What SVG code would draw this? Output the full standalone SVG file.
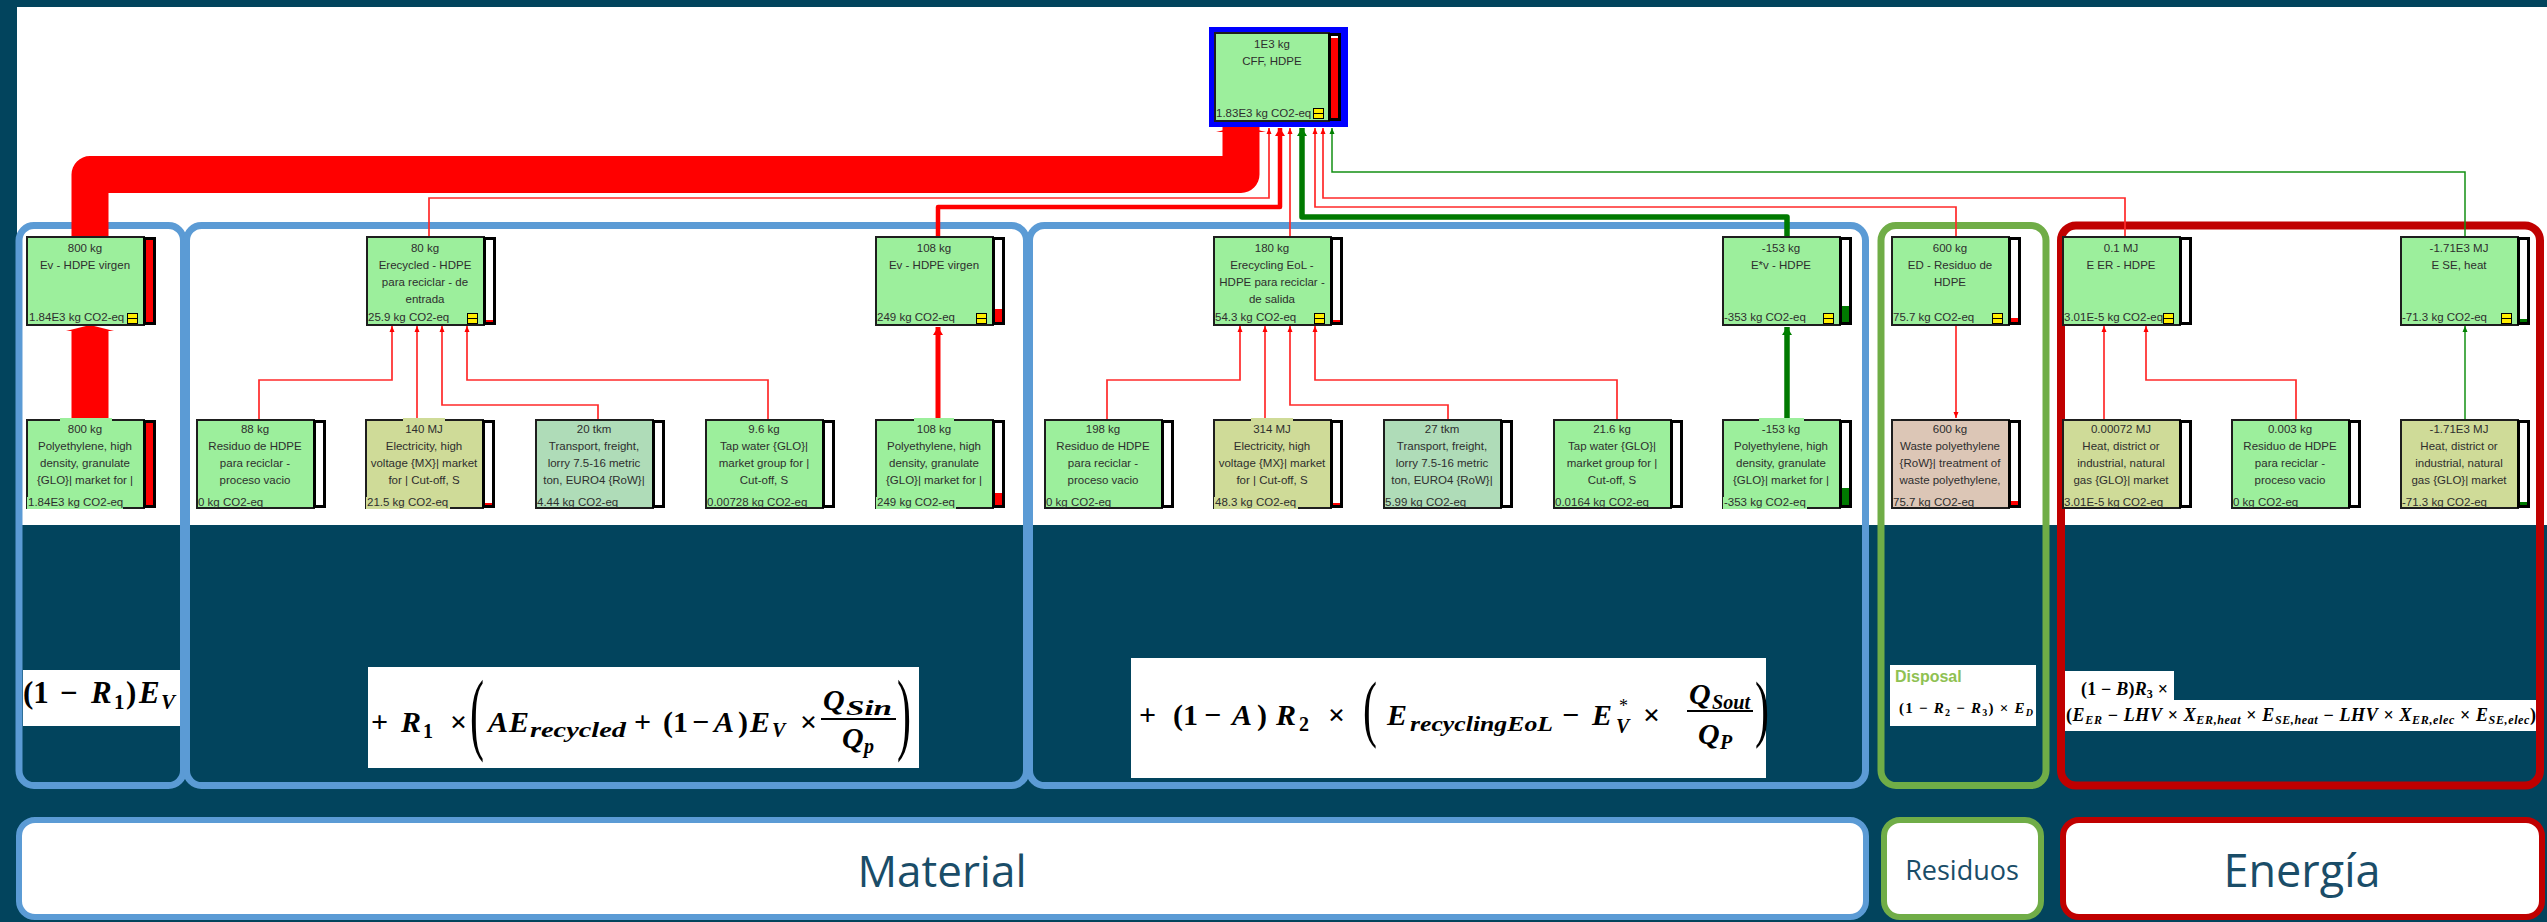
<svg xmlns="http://www.w3.org/2000/svg" width="2547" height="922" viewBox="0 0 2547 922">
<style>
.bx{stroke:#1e1e1e;stroke-width:2}
.g{fill:#9cef9c}.k{fill:#cfdb98}.tr{fill:#afdcb8}.w{fill:#dcc6b6}
.bar{fill:#fff;stroke:#000;stroke-width:3}
.fr{fill:#f00}.fg{fill:#007a00}
.t{font-family:"Liberation Sans",Arial,sans-serif;font-size:11.5px;fill:#2e2e2e;text-anchor:middle}
.b{font-family:"Liberation Sans",Arial,sans-serif;font-size:11.5px;fill:#2e2e2e}
.ico{fill:#ffee00;stroke:#000;stroke-width:1}
.thin{fill:none;stroke:#ff2a2a;stroke-width:1.7}
.thinG{fill:none;stroke:#139013;stroke-width:1.5}
.frameB{fill:none;stroke:#5b9bd5;stroke-width:7}
.frameG{fill:none;stroke:#70ad47;stroke-width:7}
.frameR{fill:none;stroke:#c00000;stroke-width:8}
.m{font-family:"Liberation Serif","DejaVu Serif",serif;font-weight:bold;fill:#000}
.mi{font-family:"Liberation Serif","DejaVu Serif",serif;font-weight:bold;font-style:italic;fill:#000}
.par{font-family:"Liberation Serif","DejaVu Serif",serif;font-weight:normal;fill:#000}
.lbl{font-family:"Open Sans","Liberation Sans",sans-serif;fill:#1a4d68;text-anchor:middle}
</style>
<defs>
<marker id="aR" markerWidth="6" markerHeight="6" refX="6" refY="3" orient="auto" markerUnits="userSpaceOnUse"><path d="M0,0.5 L6,3 L0,5.5 z" fill="#f00"/></marker>
<marker id="aG" markerWidth="6" markerHeight="6" refX="6" refY="3" orient="auto" markerUnits="userSpaceOnUse"><path d="M0,0.5 L6,3 L0,5.5 z" fill="#008000"/></marker>
<marker id="aR2" markerWidth="10" markerHeight="10" refX="8" refY="5" orient="auto" markerUnits="userSpaceOnUse"><path d="M0,0 L8,5 L0,10 z" fill="#f00"/></marker>
<marker id="aG2" markerWidth="10" markerHeight="10" refX="8" refY="5" orient="auto" markerUnits="userSpaceOnUse"><path d="M0,0 L8,5 L0,10 z" fill="#008000"/></marker>
</defs>

<rect x="0" y="0" width="2547" height="922" fill="#02445d"/>
<rect x="17" y="7" width="2530" height="518" fill="#fff"/>

<!-- formula boxes -->
<g id="formulas">
<rect x="23" y="670" width="159" height="56" fill="#fff"/>
<text class="m" x="23" y="703" font-size="31">(1</text>
<text class="m" x="60" y="703" font-size="31">−</text>
<text class="mi" x="91" y="703" font-size="31">R</text>
<text class="m" x="114" y="709" font-size="21">1</text>
<text class="m" x="126" y="703" font-size="31">)</text>
<text class="mi" x="139" y="703" font-size="31">E</text>
<text class="mi" x="161" y="709" font-size="21">V</text>

<rect x="368" y="667" width="551" height="101" fill="#fff"/>
<text class="m" x="371" y="732" font-size="30">+</text>
<text class="mi" x="401" y="732" font-size="30">R</text>
<text class="m" x="423" y="738" font-size="20">1</text>
<text class="m" x="450" y="732" font-size="30">×</text>
<text class="par" font-size="28" transform="translate(470,743) scale(1.5,3.28)">(</text>
<text class="mi" x="488" y="732" font-size="30">A</text>
<text class="mi" x="509" y="732" font-size="30">E</text>
<text class="mi" x="530" y="737" font-size="21" textLength="96" lengthAdjust="spacingAndGlyphs">recycled</text>
<text class="m" x="634" y="732" font-size="30">+</text>
<text class="m" x="663" y="732" font-size="30">(</text>
<text class="m" x="673" y="732" font-size="30">1</text>
<text class="m" x="692" y="732" font-size="30">−</text>
<text class="mi" x="714" y="732" font-size="30">A</text>
<text class="m" x="738" y="732" font-size="30">)</text>
<text class="mi" x="750" y="732" font-size="30">E</text>
<text class="mi" x="772" y="737" font-size="20">V</text>
<text class="m" x="800" y="732" font-size="30">×</text>
<text class="mi" x="823" y="710" font-size="30">Q</text>
<text class="mi" x="846" y="715" font-size="20" textLength="46" lengthAdjust="spacingAndGlyphs">Sin</text>
<line x1="821" y1="719" x2="896" y2="719" stroke="#000" stroke-width="2"/>
<text class="mi" x="842" y="748" font-size="30">Q</text>
<text class="mi" x="864" y="753" font-size="20">p</text>
<text class="par" font-size="28" transform="translate(897,743) scale(1.5,3.28)">)</text>

<rect x="1131" y="658" width="635" height="120" fill="#fff"/>
<text class="m" x="1139" y="725" font-size="30">+</text>
<text class="m" x="1173" y="725" font-size="30">(</text>
<text class="m" x="1183" y="725" font-size="30">1</text>
<text class="m" x="1204" y="725" font-size="30">−</text>
<text class="mi" x="1232" y="725" font-size="30">A</text>
<text class="m" x="1257" y="725" font-size="30">)</text>
<text class="mi" x="1276" y="725" font-size="30">R</text>
<text class="m" x="1299" y="731" font-size="20">2</text>
<text class="m" x="1328" y="725" font-size="30">×</text>
<text class="par" font-size="28" transform="translate(1363,733) scale(1.5,2.66)">(</text>
<text class="mi" x="1387" y="725" font-size="30">E</text>
<text class="mi" x="1410" y="731" font-size="21" textLength="143" lengthAdjust="spacingAndGlyphs">recyclingEoL</text>
<text class="m" x="1562" y="725" font-size="30">−</text>
<text class="mi" x="1592" y="725" font-size="30">E</text>
<text class="par" x="1619" y="712" font-size="18">*</text>
<text class="mi" x="1616" y="733" font-size="20">V</text>
<text class="m" x="1643" y="725" font-size="30">×</text>
<text class="mi" x="1689" y="704" font-size="30">Q</text>
<text class="mi" x="1712" y="709" font-size="20" textLength="38" lengthAdjust="spacingAndGlyphs">Sout</text>
<line x1="1687" y1="711" x2="1753" y2="711" stroke="#000" stroke-width="2"/>
<text class="mi" x="1698" y="744" font-size="30">Q</text>
<text class="mi" x="1720" y="749" font-size="20">P</text>
<text class="par" font-size="28" transform="translate(1755,733) scale(1.5,2.66)">)</text>

<rect x="1890" y="665" width="146" height="61" fill="#fff"/>
<text x="1895" y="682" font-family="Liberation Sans,Arial,sans-serif" font-weight="bold" font-size="16" fill="#8fc152">Disposal</text>
<text class="m" x="1899" y="713" font-size="15" textLength="134" lengthAdjust="spacing">(1 − <tspan class="mi">R</tspan><tspan font-size="10" dy="3">2</tspan><tspan dy="-3"> − </tspan><tspan class="mi">R</tspan><tspan font-size="10" dy="3">3</tspan><tspan dy="-3">) × </tspan><tspan class="mi">E</tspan><tspan class="mi" font-size="10" dy="3">D</tspan></text>

<rect x="2063" y="671" width="111" height="30" fill="#fff"/>
<rect x="2063" y="700" width="477" height="31" fill="#fff"/>
<text class="m" x="2081" y="695" font-size="18" textLength="87" lengthAdjust="spacing">(1 − <tspan class="mi">B</tspan>)<tspan class="mi">R</tspan><tspan font-size="12" dy="3">3</tspan><tspan dy="-3"> ×</tspan></text>
<text class="m" x="2066" y="721" font-size="18" textLength="470" lengthAdjust="spacing">(<tspan class="mi">E</tspan><tspan class="mi" font-size="12" dy="3">ER</tspan><tspan dy="-3"> − </tspan><tspan class="mi">LHV</tspan> × <tspan class="mi">X</tspan><tspan class="mi" font-size="12" dy="3">ER,heat</tspan><tspan dy="-3"> × </tspan><tspan class="mi">E</tspan><tspan class="mi" font-size="12" dy="3">SE,heat</tspan><tspan dy="-3"> − </tspan><tspan class="mi">LHV</tspan> × <tspan class="mi">X</tspan><tspan class="mi" font-size="12" dy="3">ER,elec</tspan><tspan dy="-3"> × </tspan><tspan class="mi">E</tspan><tspan class="mi" font-size="12" dy="3">SE,elec</tspan><tspan dy="-3">)</tspan></text>
</g>

<!-- group frames -->
<g id="frames">
<rect class="frameB" x="19" y="225.5" width="164.5" height="560" rx="15"/>
<rect class="frameB" x="186.5" y="225.5" width="840" height="560" rx="15"/>
<rect class="frameB" x="1029.5" y="225.5" width="836" height="560" rx="15"/>
<rect class="frameG" x="1881" y="225.5" width="165" height="560" rx="15"/>
<rect class="frameR" x="2061" y="225.5" width="479" height="560" rx="15"/>
</g>

<!-- bottom labels -->
<g id="lbl-material"><rect x="19" y="820" width="1847" height="97" rx="16" fill="#fff" stroke="#5b9bd5" stroke-width="6"/><text class="lbl" x="942" y="887" font-size="44">Material</text></g>
<g id="lbl-residuos"><rect x="1884" y="820" width="157" height="97" rx="16" fill="#fff" stroke="#70ad47" stroke-width="6"/><text class="lbl" x="1962" y="880" font-size="27">Residuos</text></g>
<g id="lbl-energia"><rect x="2063" y="820" width="479" height="97" rx="16" fill="#fff" stroke="#c00000" stroke-width="6"/><text class="lbl" x="2302" y="887" font-size="45">Energía</text></g>

<!-- connectors -->
<g id="connectors">
<path d="M1241,127 V174.5 H90 V237" fill="none" stroke="#f00" stroke-width="37" stroke-linejoin="round"/>
<polygon points="1216,132 1241,126 1266,132" fill="#f00"/>
<path d="M90,420 V331" fill="none" stroke="#f00" stroke-width="37"/>
<polygon points="66,331 90,325 114,331" fill="#f00"/>
<path class="thin" d="M429,237 V198 H1269 V128" marker-end="url(#aR)"/>
<path d="M938,237 V207 H1280 V128" fill="none" stroke="#f00" stroke-width="4.5" stroke-linejoin="round" marker-end="url(#aR2)"/>
<path class="thin" d="M1290,237 V128" marker-end="url(#aR)"/>
<path d="M1787,237 V217 H1302 V128" fill="none" stroke="#007a00" stroke-width="5.5" stroke-linejoin="round" marker-end="url(#aG2)"/>
<path class="thin" d="M1956,237 V207 H1315 V128" marker-end="url(#aR)"/>
<path class="thin" d="M2125,237 V198 H1323 V128" marker-end="url(#aR)"/>
<path class="thinG" d="M2465,237 V172 H1332 V128" marker-end="url(#aG)"/>

<path class="thin" d="M259,420 V380 H392 V326" marker-end="url(#aR)"/>
<path class="thin" d="M417,420 V326" marker-end="url(#aR)"/>
<path class="thin" d="M598,420 V405 H442 V326" marker-end="url(#aR)"/>
<path class="thin" d="M768,420 V380 H467 V326" marker-end="url(#aR)"/>
<path d="M938,420 V327" fill="none" stroke="#f00" stroke-width="5" marker-end="url(#aR2)"/>

<path class="thin" d="M1107,420 V380 H1240 V326" marker-end="url(#aR)"/>
<path class="thin" d="M1265,420 V326" marker-end="url(#aR)"/>
<path class="thin" d="M1448,420 V405 H1290 V326" marker-end="url(#aR)"/>
<path class="thin" d="M1617,420 V380 H1315 V326" marker-end="url(#aR)"/>
<path d="M1787,420 V327" fill="none" stroke="#007a00" stroke-width="5.5" marker-end="url(#aG2)"/>

<path class="thin" d="M1956,325 V418" marker-end="url(#aR)"/>
<path class="thin" d="M2104,420 V326" marker-end="url(#aR)"/>
<path class="thin" d="M2296,420 V380 H2146 V326" marker-end="url(#aR)"/>
<path class="thinG" d="M2465,420 V326" marker-end="url(#aG)"/>
</g>

<!-- top node -->
<g id="cff">
<rect x="1209" y="27" width="139" height="100" fill="#0000ff"/>
<rect class="bx g" x="1215" y="33" width="114" height="88"/>
<rect class="bar" x="1329.5" y="34.5" width="10" height="85"/>
<rect class="fr" x="1331" y="38" width="7" height="80"/>
<text class="t" x="1272" y="48">1E3 kg</text>
<text class="t" x="1272" y="65">CFF, HDPE</text>
<text class="b" x="1216" y="117">1.83E3 kg CO2-eq</text>
<rect class="ico" x="1313.5" y="108.5" width="10" height="10"/><line x1="1313.5" y1="113.5" x2="1323.5" y2="113.5" stroke="#000"/>
</g>

<!-- row 1 -->
<g id="n-ev800">
<rect class="bx g" x="27" y="237" width="117" height="88"/>
<rect class="bar" x="144.5" y="238.5" width="10" height="85"/>
<rect class="fr" x="146" y="240" width="7" height="82"/>
<text class="t" x="85" y="252">800 kg</text>
<text class="t" x="85" y="269">Ev - HDPE virgen</text>
<text class="b" x="29" y="321">1.84E3 kg CO2-eq</text>
<rect class="ico" x="127.5" y="313.5" width="10" height="10"/><line x1="127.5" y1="318.5" x2="137.5" y2="318.5" stroke="#000"/>
</g>
<g id="n-erecycled">
<rect class="bx g" x="367" y="237" width="117" height="88"/>
<rect class="bar" x="484.5" y="238.5" width="10" height="85"/>
<rect class="fr" x="486" y="320" width="7" height="2"/>
<text class="t" x="425" y="252">80 kg</text>
<text class="t" x="425" y="269">Erecycled - HDPE</text>
<text class="t" x="425" y="286">para reciclar - de</text>
<text class="t" x="425" y="303">entrada</text>
<text class="b" x="368" y="321">25.9 kg CO2-eq</text>
<rect class="ico" x="467.5" y="313.5" width="10" height="10"/><line x1="467.5" y1="318.5" x2="477.5" y2="318.5" stroke="#000"/>
</g>
<g id="n-ev108">
<rect class="bx g" x="876" y="237" width="117" height="88"/>
<rect class="bar" x="993.5" y="238.5" width="10" height="85"/>
<rect class="fr" x="995" y="309" width="7" height="13"/>
<text class="t" x="934" y="252">108 kg</text>
<text class="t" x="934" y="269">Ev - HDPE virgen</text>
<text class="b" x="877" y="321">249 kg CO2-eq</text>
<rect class="ico" x="976.5" y="313.5" width="10" height="10"/><line x1="976.5" y1="318.5" x2="986.5" y2="318.5" stroke="#000"/>
</g>
<g id="n-erecyclingeol">
<rect class="bx g" x="1214" y="237" width="117" height="88"/>
<rect class="bar" x="1331.5" y="238.5" width="10" height="85"/>
<rect class="fr" x="1333" y="320" width="7" height="2"/>
<text class="t" x="1272" y="252">180 kg</text>
<text class="t" x="1272" y="269">Erecycling EoL -</text>
<text class="t" x="1272" y="286">HDPE para reciclar -</text>
<text class="t" x="1272" y="303">de salida</text>
<text class="b" x="1215" y="321">54.3 kg CO2-eq</text>
<rect class="ico" x="1314.5" y="313.5" width="10" height="10"/><line x1="1314.5" y1="318.5" x2="1324.5" y2="318.5" stroke="#000"/>
</g>
<g id="n-evstar">
<rect class="bx g" x="1723" y="237" width="117" height="88"/>
<rect class="bar" x="1840.5" y="238.5" width="10" height="85"/>
<rect class="fg" x="1842" y="306" width="7" height="16"/>
<text class="t" x="1781" y="252">-153 kg</text>
<text class="t" x="1781" y="269">E*v - HDPE</text>
<text class="b" x="1724" y="321">-353 kg CO2-eq</text>
<rect class="ico" x="1823.5" y="313.5" width="10" height="10"/><line x1="1823.5" y1="318.5" x2="1833.5" y2="318.5" stroke="#000"/>
</g>
<g id="n-ed">
<rect class="bx g" x="1892" y="237" width="117" height="88"/>
<rect class="bar" x="2009.5" y="238.5" width="10" height="85"/>
<rect class="fr" x="2011" y="318" width="7" height="4"/>
<text class="t" x="1950" y="252">600 kg</text>
<text class="t" x="1950" y="269">ED - Residuo de</text>
<text class="t" x="1950" y="286">HDPE</text>
<text class="b" x="1893" y="321">75.7 kg CO2-eq</text>
<rect class="ico" x="1992.5" y="313.5" width="10" height="10"/><line x1="1992.5" y1="318.5" x2="2002.5" y2="318.5" stroke="#000"/>
</g>
<g id="n-eer">
<rect class="bx g" x="2063" y="237" width="117" height="88"/>
<rect class="bar" x="2180.5" y="238.5" width="10" height="85"/>
<text class="t" x="2121" y="252">0.1 MJ</text>
<text class="t" x="2121" y="269">E ER - HDPE</text>
<text class="b" x="2064" y="321">3.01E-5 kg CO2-eq</text>
<rect class="ico" x="2163.5" y="313.5" width="10" height="10"/><line x1="2163.5" y1="318.5" x2="2173.5" y2="318.5" stroke="#000"/>
</g>
<g id="n-eseheat">
<rect class="bx g" x="2401" y="237" width="117" height="88"/>
<rect class="bar" x="2518.5" y="238.5" width="10" height="85"/>
<rect class="fg" x="2520" y="319" width="7" height="3"/>
<text class="t" x="2459" y="252">-1.71E3 MJ</text>
<text class="t" x="2459" y="269">E SE, heat</text>
<text class="b" x="2402" y="321">-71.3 kg CO2-eq</text>
<rect class="ico" x="2501.5" y="313.5" width="10" height="10"/><line x1="2501.5" y1="318.5" x2="2511.5" y2="318.5" stroke="#000"/>
</g>

<!-- row 2 -->
<g id="m-pe800">
<rect class="bx g" x="27" y="420" width="117" height="88"/>
<rect class="g" x="60" y="418" width="52" height="6"/>
<rect class="g" x="27" y="497" width="96" height="12"/>
<rect class="bar" x="144.5" y="421.5" width="10" height="85"/>
<rect class="fr" x="146" y="423" width="7" height="82"/>
<text class="t" x="85" y="433">800 kg</text>
<text class="t" x="85" y="450">Polyethylene, high</text>
<text class="t" x="85" y="467">density, granulate</text>
<text class="t" x="85" y="484">{GLO}| market for |</text>
<text class="b" x="28" y="506">1.84E3 kg CO2-eq</text>
</g>
<g id="m-res88">
<rect class="bx g" x="197" y="420" width="117" height="88"/>
<rect class="bar" x="314.5" y="421.5" width="10" height="85"/>
<text class="t" x="255" y="433">88 kg</text>
<text class="t" x="255" y="450">Residuo de HDPE</text>
<text class="t" x="255" y="467">para reciclar -</text>
<text class="t" x="255" y="484">proceso vacio</text>
<text class="b" x="198" y="506">0 kg CO2-eq</text>
</g>
<g id="m-elec140">
<rect class="bx k" x="366" y="420" width="117" height="88"/>
<rect class="k" x="403" y="418" width="42" height="6"/>
<rect class="k" x="366" y="497" width="84" height="12"/>
<rect class="bar" x="483.5" y="421.5" width="10" height="85"/>
<rect class="fr" x="485" y="503" width="7" height="2"/>
<text class="t" x="424" y="433">140 MJ</text>
<text class="t" x="424" y="450">Electricity, high</text>
<text class="t" x="424" y="467">voltage {MX}| market</text>
<text class="t" x="424" y="484">for | Cut-off, S</text>
<text class="b" x="367" y="506">21.5 kg CO2-eq</text>
</g>
<g id="m-tr20">
<rect class="bx tr" x="536" y="420" width="117" height="88"/>
<rect class="bar" x="653.5" y="421.5" width="10" height="85"/>
<text class="t" x="594" y="433">20 tkm</text>
<text class="t" x="594" y="450">Transport, freight,</text>
<text class="t" x="594" y="467">lorry 7.5-16 metric</text>
<text class="t" x="594" y="484">ton, EURO4 {RoW}|</text>
<text class="b" x="537" y="506">4.44 kg CO2-eq</text>
</g>
<g id="m-tap96">
<rect class="bx g" x="706" y="420" width="117" height="88"/>
<rect class="bar" x="823.5" y="421.5" width="10" height="85"/>
<text class="t" x="764" y="433">9.6 kg</text>
<text class="t" x="764" y="450">Tap water {GLO}|</text>
<text class="t" x="764" y="467">market group for |</text>
<text class="t" x="764" y="484">Cut-off, S</text>
<text class="b" x="707" y="506">0.00728 kg CO2-eq</text>
</g>
<g id="m-pe108">
<rect class="bx g" x="876" y="420" width="117" height="88"/>
<rect class="g" x="914" y="418" width="40" height="6"/>
<rect class="g" x="876" y="497" width="80" height="12"/>
<rect class="bar" x="993.5" y="421.5" width="10" height="85"/>
<rect class="fr" x="995" y="493" width="7" height="12"/>
<text class="t" x="934" y="433">108 kg</text>
<text class="t" x="934" y="450">Polyethylene, high</text>
<text class="t" x="934" y="467">density, granulate</text>
<text class="t" x="934" y="484">{GLO}| market for |</text>
<text class="b" x="877" y="506">249 kg CO2-eq</text>
</g>
<g id="m-res198">
<rect class="bx g" x="1045" y="420" width="117" height="88"/>
<rect class="bar" x="1162.5" y="421.5" width="10" height="85"/>
<text class="t" x="1103" y="433">198 kg</text>
<text class="t" x="1103" y="450">Residuo de HDPE</text>
<text class="t" x="1103" y="467">para reciclar -</text>
<text class="t" x="1103" y="484">proceso vacio</text>
<text class="b" x="1046" y="506">0 kg CO2-eq</text>
</g>
<g id="m-elec314">
<rect class="bx k" x="1214" y="420" width="117" height="88"/>
<rect class="k" x="1251" y="418" width="42" height="6"/>
<rect class="k" x="1214" y="497" width="84" height="12"/>
<rect class="bar" x="1331.5" y="421.5" width="10" height="85"/>
<rect class="fr" x="1333" y="503" width="7" height="2"/>
<text class="t" x="1272" y="433">314 MJ</text>
<text class="t" x="1272" y="450">Electricity, high</text>
<text class="t" x="1272" y="467">voltage {MX}| market</text>
<text class="t" x="1272" y="484">for | Cut-off, S</text>
<text class="b" x="1215" y="506">48.3 kg CO2-eq</text>
</g>
<g id="m-tr27">
<rect class="bx tr" x="1384" y="420" width="117" height="88"/>
<rect class="bar" x="1501.5" y="421.5" width="10" height="85"/>
<text class="t" x="1442" y="433">27 tkm</text>
<text class="t" x="1442" y="450">Transport, freight,</text>
<text class="t" x="1442" y="467">lorry 7.5-16 metric</text>
<text class="t" x="1442" y="484">ton, EURO4 {RoW}|</text>
<text class="b" x="1385" y="506">5.99 kg CO2-eq</text>
</g>
<g id="m-tap216">
<rect class="bx g" x="1554" y="420" width="117" height="88"/>
<rect class="bar" x="1671.5" y="421.5" width="10" height="85"/>
<text class="t" x="1612" y="433">21.6 kg</text>
<text class="t" x="1612" y="450">Tap water {GLO}|</text>
<text class="t" x="1612" y="467">market group for |</text>
<text class="t" x="1612" y="484">Cut-off, S</text>
<text class="b" x="1555" y="506">0.0164 kg CO2-eq</text>
</g>
<g id="m-pe153">
<rect class="bx g" x="1723" y="420" width="117" height="88"/>
<rect class="g" x="1759" y="418" width="45" height="6"/>
<rect class="g" x="1723" y="497" width="84" height="12"/>
<rect class="bar" x="1840.5" y="421.5" width="10" height="85"/>
<rect class="fg" x="1842" y="488" width="7" height="17"/>
<text class="t" x="1781" y="433">-153 kg</text>
<text class="t" x="1781" y="450">Polyethylene, high</text>
<text class="t" x="1781" y="467">density, granulate</text>
<text class="t" x="1781" y="484">{GLO}| market for |</text>
<text class="b" x="1724" y="506">-353 kg CO2-eq</text>
</g>
<g id="m-wastepe">
<rect class="bx w" x="1892" y="420" width="117" height="88"/>
<rect class="bar" x="2009.5" y="421.5" width="10" height="85"/>
<rect class="fr" x="2011" y="501" width="7" height="4"/>
<text class="t" x="1950" y="433">600 kg</text>
<text class="t" x="1950" y="450">Waste polyethylene</text>
<text class="t" x="1950" y="467">{RoW}| treatment of</text>
<text class="t" x="1950" y="484">waste polyethylene,</text>
<text class="b" x="1893" y="506">75.7 kg CO2-eq</text>
</g>
<g id="m-heat1">
<rect class="bx k" x="2063" y="420" width="117" height="88"/>
<rect class="bar" x="2180.5" y="421.5" width="10" height="85"/>
<text class="t" x="2121" y="433">0.00072 MJ</text>
<text class="t" x="2121" y="450">Heat, district or</text>
<text class="t" x="2121" y="467">industrial, natural</text>
<text class="t" x="2121" y="484">gas {GLO}| market</text>
<text class="b" x="2064" y="506">3.01E-5 kg CO2-eq</text>
</g>
<g id="m-res0003">
<rect class="bx g" x="2232" y="420" width="117" height="88"/>
<rect class="bar" x="2349.5" y="421.5" width="10" height="85"/>
<text class="t" x="2290" y="433">0.003 kg</text>
<text class="t" x="2290" y="450">Residuo de HDPE</text>
<text class="t" x="2290" y="467">para reciclar -</text>
<text class="t" x="2290" y="484">proceso vacio</text>
<text class="b" x="2233" y="506">0 kg CO2-eq</text>
</g>
<g id="m-heat2">
<rect class="bx k" x="2401" y="420" width="117" height="88"/>
<rect class="bar" x="2518.5" y="421.5" width="10" height="85"/>
<rect class="fg" x="2520" y="502" width="7" height="3"/>
<text class="t" x="2459" y="433">-1.71E3 MJ</text>
<text class="t" x="2459" y="450">Heat, district or</text>
<text class="t" x="2459" y="467">industrial, natural</text>
<text class="t" x="2459" y="484">gas {GLO}| market</text>
<text class="b" x="2402" y="506">-71.3 kg CO2-eq</text>
</g>
</svg>
